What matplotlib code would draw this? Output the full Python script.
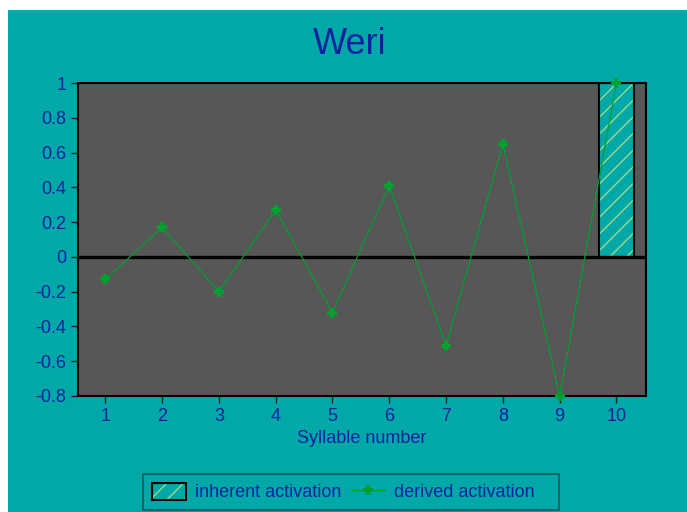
import numpy as np
import matplotlib
matplotlib.use("Agg")
import matplotlib.pyplot as plt
from matplotlib.patches import Rectangle
from matplotlib.legend_handler import HandlerTuple

# data
syllables = [1, 2, 3, 4, 5, 6, 7, 8, 9, 10]
derived = [-0.13, 0.17, -0.2, 0.27, -0.32, 0.41, -0.51, 0.65, -0.8, 1.0]
inherent_pos = [10]
inherent_val = [1.0]
yticks = [-0.8, -0.6, -0.4, -0.2, 0, 0.2, 0.4, 0.6, 0.8, 1]
yticklabels = ["-0.8", "-0.6", "-0.4", "-0.2", "0", "0.2", "0.4", "0.6", "0.8", "1"]

teal = "#00A8A8"
txt = "#0A22A0"
green = "#00A030"
plt.rcParams['font.family'] = ['Liberation Sans', 'DejaVu Sans']

fig = plt.figure(figsize=(6.87, 5.12), dpi=100, facecolor="white")
# teal background, leaving the thin white margin at top/left
bg = Rectangle((8 / 687, 0), 1 - 8 / 687, 1 - 10 / 512,
               transform=fig.transFigure, facecolor=teal,
               edgecolor="none", zorder=-10)
fig.add_artist(bg)

ax = fig.add_axes([78 / 687, 1 - 396 / 512, (646 - 78) / 687, (396 - 83) / 512])
ax.set_facecolor("#575757")

# hatched bar then its outline
hb = ax.bar(inherent_pos, inherent_val, width=0.6, color=teal, edgecolor="#9ED88A",
            hatch="//", linewidth=0, zorder=2)
ob = ax.bar(inherent_pos, inherent_val, width=0.6, fill=False, edgecolor="black",
            linewidth=1.5, zorder=3)

ax.axhline(0, color="black", linewidth=2.4, zorder=4)

ln, = ax.plot(syllables, derived, color=green, linewidth=0.9, marker="P",
              markersize=7, markeredgewidth=0, zorder=5, clip_on=False)

ax.set_xlim(0.52, 10.52)
ax.set_ylim(-0.8, 1)
ax.set_xticks(syllables)
ax.set_xticklabels([str(s) for s in syllables])
ax.set_yticks(yticks)
ax.set_yticklabels(yticklabels)
ax.tick_params(colors="#202020", labelcolor=txt, labelsize=13, length=5, width=1)

for s in ax.spines.values():
    s.set_color("black")
    s.set_linewidth(1.5)

ax.set_xlabel("Syllable number", color=txt, fontsize=13, labelpad=4)
fig.text(350 / 687, 1 - 45 / 512, "Weri", ha="center", va="center",
         color=txt, fontsize=26)

leg = fig.legend([(hb.patches[0], ob.patches[0]), ln],
                 ["inherent activation", "derived activation   "],
                 handler_map={tuple: HandlerTuple(ndivide=1, pad=0)},
                 loc="center", bbox_to_anchor=(351 / 687, 1 - 492 / 512),
                 ncol=2, frameon=True, fancybox=False, fontsize=13,
                 labelcolor=txt, handlelength=1.9, handleheight=1.1,
                 handletextpad=0.5, columnspacing=0.5, borderpad=0.5,
                 borderaxespad=0)
leg.get_frame().set_facecolor(teal)
leg.get_frame().set_edgecolor("#005858")
leg.get_frame().set_linewidth(1.5)

fig.savefig("out.png", dpi=100, facecolor="white")
